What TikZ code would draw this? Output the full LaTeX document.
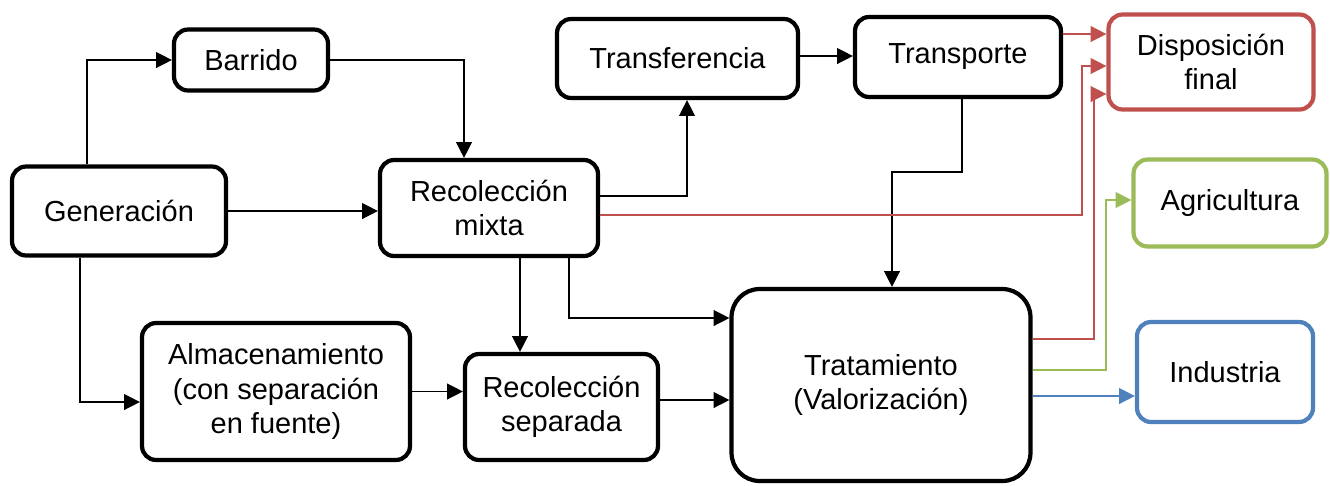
\documentclass[tikz,border=0pt]{standalone}
\usepackage{fontspec}
\setmainfont{Liberation Sans}
\usetikzlibrary{%
  arrows.meta,%
  calc%
}
\definecolor{rojo}{HTML}{C0504D}
\definecolor{verde}{HTML}{9BBB59}
\definecolor{azul}{HTML}{4F81BD}
\tikzset{>={Triangle[length=9pt,width=9pt]}}
\tikzset{
  caja/.style={draw,line width=2.4pt,rounded corners=8pt,align=center,
    font=\fontsize{16.5}{19.5}\selectfont},
  flecha/.style={->,line width=0.8pt},
}

\begin{document}
\begin{tikzpicture}[x=0.02cm,y=-0.02cm]
        \useasboundingbox (0,0) rectangle (1330,485);
        % cajas
        \node[caja,minimum width=4.28cm,minimum height=1.78cm] (gen) at (119,211) {Generaci\'on};
        \node[caja,minimum width=3.08cm,minimum height=1.22cm] (barr) at (251,60) {Barrido};
        \node[caja,minimum width=4.36cm,minimum height=1.92cm] (rmix) at (489,208) {Recolecci\'on\\mixta};
        \node[caja,minimum width=4.82cm,minimum height=1.58cm] (transf) at (677.5,58.5) {Transferencia};
        \node[caja,minimum width=4.12cm,minimum height=1.60cm] (transp) at (958,57) {Transporte};
        \node[caja,draw=rojo,minimum width=4.10cm,minimum height=1.90cm] (disp) at (1211,62) {Disposici\'on\\final};
        \node[caja,draw=verde,minimum width=3.86cm,minimum height=1.74cm] (agri) at (1230,203) {Agricultura};
        \node[caja,draw=azul,minimum width=3.52cm,minimum height=2.00cm] (indu) at (1225,372) {Industria};
        \node[caja,rounded corners=16pt,minimum width=5.98cm,minimum height=3.84cm] (trat) at (881,385) {Tratamiento\\(Valorizaci\'on)};
        \node[caja,minimum width=5.36cm,minimum height=2.74cm] (alm) at (276,391.5) {Almacenamiento\\(con separaci\'on\\en fuente)};
        \node[caja,minimum width=3.86cm,minimum height=2.12cm] (rsep) at (561.5,407) {Recolecci\'on\\separada};
        % conexiones
        \draw[flecha] (87,0 |- gen.north) |- (barr.west);
        \draw[flecha] (barr.east) -| (464,0 |- rmix.north);
        \draw[flecha] (gen.east) -- (gen.east -| rmix.west);
        \draw[flecha] (80,0 |- gen.south) |- (alm.west |- 0,402);
        \draw[flecha] (alm.east) -- (alm.east -| rsep.west);
        \draw[flecha] (520,0 |- rmix.south) -- (520,0 |- rsep.north);
        \draw[flecha] (rmix.east |- 0,196) -| (687,0 |- transf.south);
        \draw[flecha] (transf.east |- 0,56) -- (transp.west |- 0,56);
        \draw[flecha] (962,0 |- transp.south) |- (892,172) -- (892,0 |- trat.north);
        \draw[flecha] (569,0 |- rmix.south) |- (trat.west |- 0,318);
        \draw[flecha] (rsep.east |- 0,400) -- (trat.west |- 0,400);
        \draw[flecha,draw=rojo] (rmix.east |- 0,215) -| (1082,66) -- (disp.west |- 0,66);
        \draw[flecha,draw=rojo] (transp.east |- 0,34) -- (disp.west |- 0,34);
        \draw[flecha,draw=rojo] (trat.east |- 0,339) -| (1094,94) -- (disp.west |- 0,94);
        \draw[flecha,draw=verde] (trat.east |- 0,370) -| (1106,200) -- (agri.west |- 0,200);
        \draw[flecha,draw=azul] (trat.east |- 0,396) -- (indu.west |- 0,396);
      \end{tikzpicture}
\end{document}
